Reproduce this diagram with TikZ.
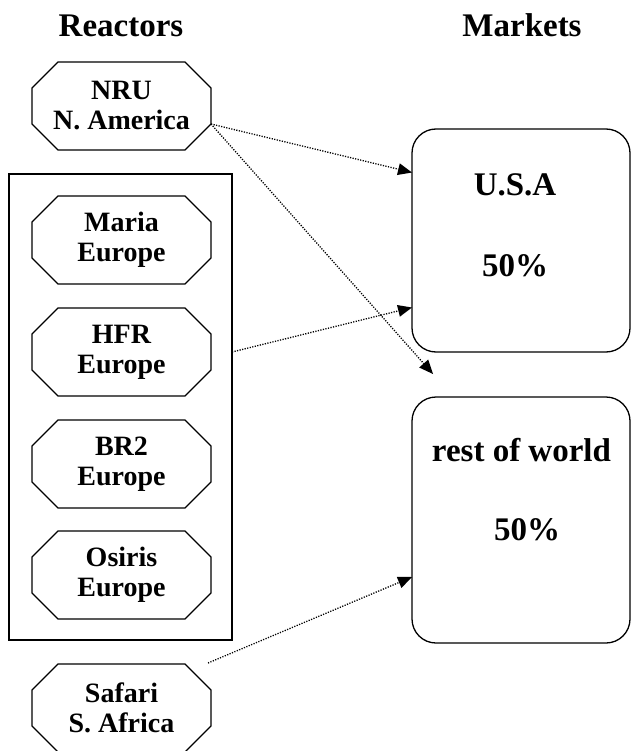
\documentclass[tikz,border=0pt]{standalone}
\usepackage{fontspec}
\setmainfont{Liberation Serif}
\usetikzlibrary{arrows.meta}
\tikzset{
  title/.style={anchor=base, font=\fontsize{33}{38}\selectfont\bfseries},
  octnode/.style={minimum width=179pt, minimum height=88pt, inner sep=0pt, outer sep=0pt,
    align=center, font=\fontsize{28}{30}\selectfont\bfseries},
  octline/.style={draw=black, line width=1.3pt, line join=miter},
  container/.style={draw=black, line width=1.3pt, minimum width=223pt, minimum height=466pt,
    inner sep=0pt, outer sep=0pt},
  market/.style={draw=black, line width=1.3pt, rounded corners=24pt, minimum width=218pt,
    inner sep=0pt, outer sep=0pt},
  mtext/.style={anchor=base, font=\fontsize{33}{38}\selectfont\bfseries},
  flow/.style={line width=1.3pt, dash pattern=on 1.2pt off 1.4pt,
    -{Triangle[length=14pt,width=12pt,line width=0pt]}, shorten >=0pt},
}
\begin{document}
\begin{tikzpicture}[x=1pt,y=-1pt]
\useasboundingbox (0,0) rectangle (631,751);
\fill[white] (0,0) rectangle (631,751);
% titles
\node[title] (treact) at (121,37) {Reactors};
\node[title] (tmark) at (522,37) {Markets};
% container
\node[container] (cont) at (120.5,407) {};
% reactors
\node[octnode] (nru) at (121.5,106) {NRU\\N. America};
\node[octnode] (maria) at (121.5,240) {Maria\\Europe};
\node[octnode] (hfr) at (121.5,352) {HFR\\Europe};
\node[octnode] (br2) at (121.5,464) {BR2\\Europe};
\node[octnode] (osiris) at (121.5,575) {Osiris\\Europe};
\node[octnode] (safari) at (121.5,708) {Safari\\S. Africa};
\foreach \n in {nru,maria,hfr,br2,osiris,safari}{
  \draw[octline] ([xshift=26pt]\n.north west) -- ([xshift=-26pt]\n.north east)
    -- ([yshift=-26pt]\n.north east) -- ([yshift=26pt]\n.south east)
    -- ([xshift=-26pt]\n.south east) -- ([xshift=26pt]\n.south west)
    -- ([yshift=26pt]\n.south west) -- ([yshift=-26pt]\n.north west) -- cycle;
}
% markets
\node[market, minimum height=223pt] (usa) at (521,240.5) {};
\node[market, minimum height=246pt] (row) at (521,520) {};
\node[mtext] (usat) at (515,196) {U.S.A};
\node[mtext] (usap) at (515,276) {50\%};
\node[mtext] (rowt) at (521.5,461) {rest of world};
\node[mtext] (rowp) at (527,540) {50\%};
% connectors
\coordinate (nrustart) at ([yshift=26pt]nru.south east);
\coordinate (freeend) at (433,374);
\coordinate (safstart) at (208,663);
\draw[flow] (nrustart) -- ([yshift=68pt]usa.west);
\draw[flow] (nrustart) -- (freeend);
\draw[flow] ([yshift=55pt]cont.east) -- ([yshift=-67pt]usa.west);
\draw[flow] (safstart) -- ([yshift=-57pt]row.west);
\end{tikzpicture}
\end{document}
